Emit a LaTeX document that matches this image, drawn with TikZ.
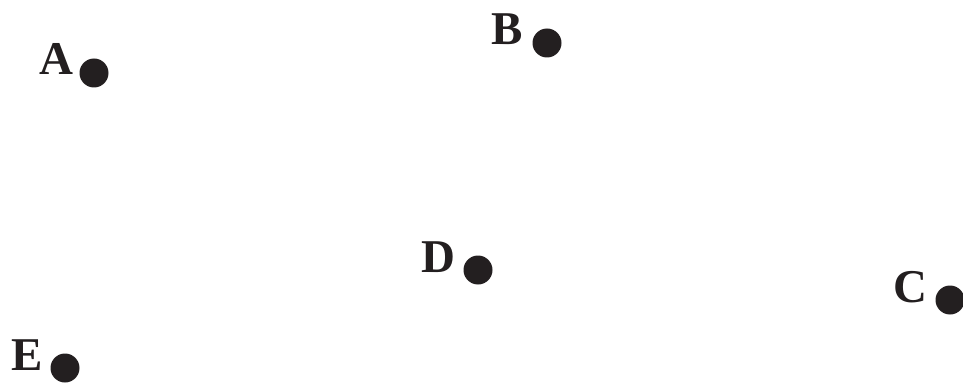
\documentclass[tikz,border=0pt]{standalone}
\usepackage{fontspec}
\setmainfont{Liberation Serif}
\definecolor{inchiostro}{HTML}{231F20}
\tikzset{
  pt/.style={circle,fill=inchiostro,inner sep=0pt,minimum size=29pt},
  lbl/.style={text=inchiostro,font=\fontsize{47}{50}\selectfont\bfseries,inner sep=0pt,anchor=base east}
}
\begin{document}
\begin{tikzpicture}[x=1pt,y=-1pt]
  \useasboundingbox (0,0) rectangle (963,390);
  % punti
  \node[pt] (A) at (94,73) {};
  \node[pt] (B) at (547,43) {};
  \node[pt] (D) at (478,270) {};
  \node[pt] (C) at (950,300) {};
  \node[pt] (E) at (65,368) {};
  % etichette
  \node[lbl] (lA) at ([xshift=-20pt,yshift=-2pt]A.center) {A};
  \node[lbl] (lB) at ([xshift=-24pt,yshift=-2pt]B.center) {B};
  \node[lbl] (lD) at ([xshift=-22pt,yshift=-2pt]D.center) {D};
  \node[lbl] (lC) at ([xshift=-22pt,yshift=-2pt]C.center) {C};
  \node[lbl] (lE) at ([xshift=-22pt,yshift=-2pt]E.center) {E};
\end{tikzpicture}
\end{document}
